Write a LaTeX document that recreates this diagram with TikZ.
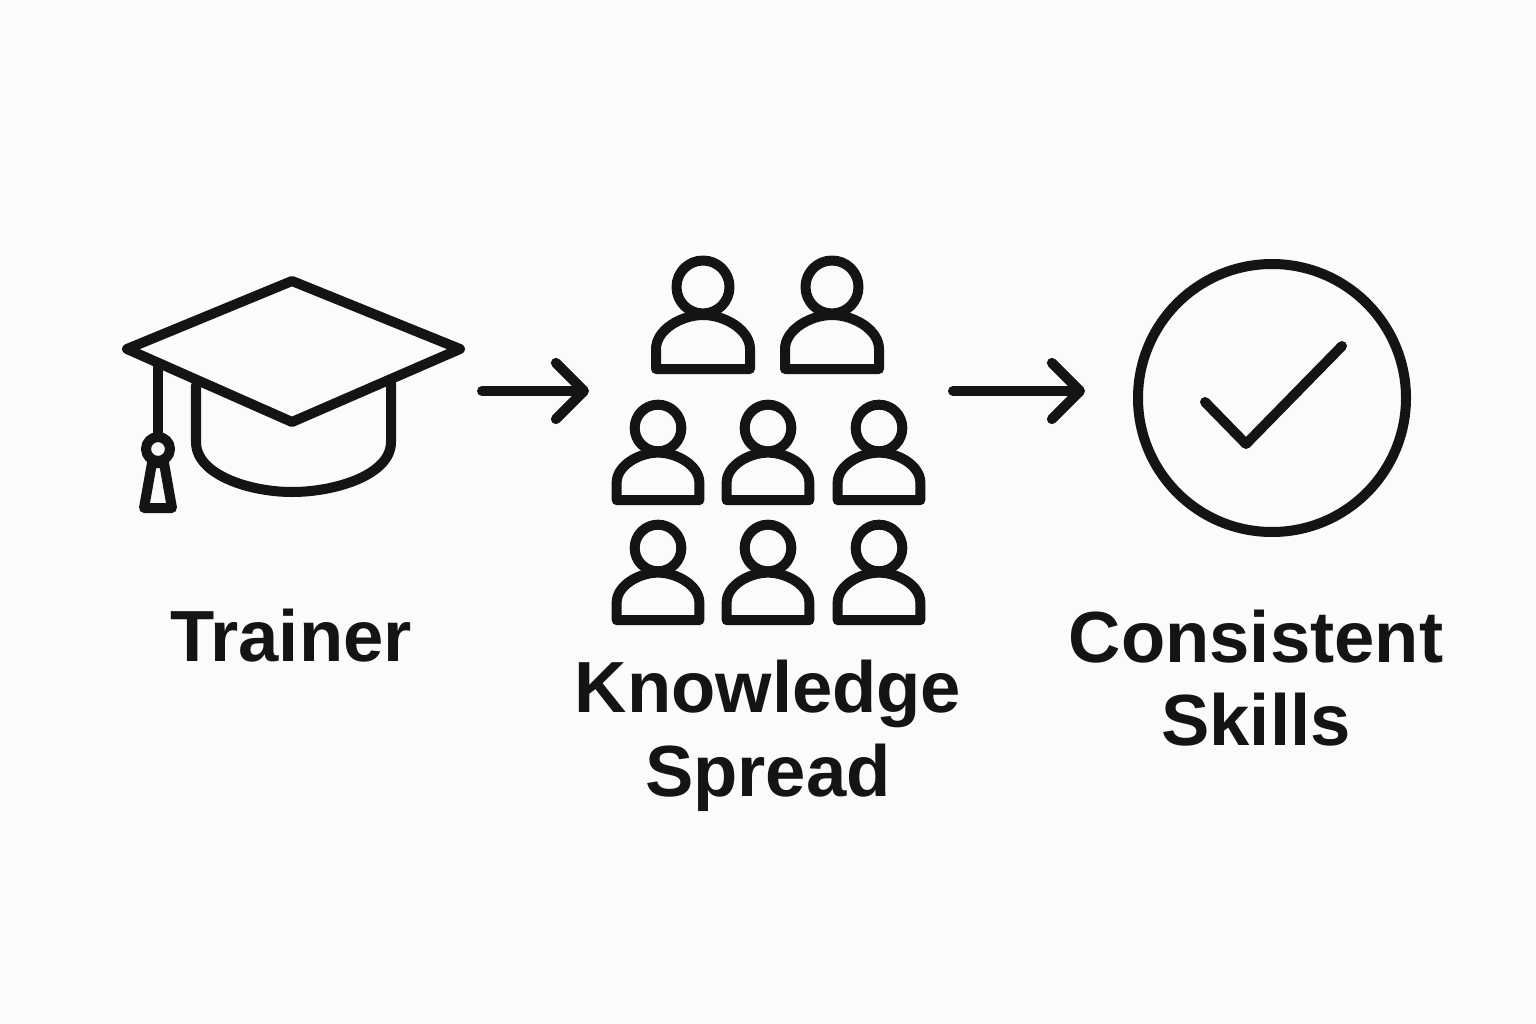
\documentclass[tikz,border=0pt]{standalone}
\usepackage{fontspec}
\setmainfont{Liberation Sans}
\usepackage{tikz}
\usetikzlibrary{arrows.meta}
\definecolor{inkblack}{HTML}{141414}
\definecolor{paper}{HTML}{FBFBFB}
\tikzset{
    icon/.style={line width=0.1cm, color=inkblack, line join=round, line cap=round},
    flowarrow/.style={icon, -{Straight Barb[length=8pt,width=16pt,round]}},
    caption/.style={font=\bfseries\fontsize{20.6}{23.8}\selectfont, text=inkblack, align=center},
    person/.pic={
        \draw[icon] (0,0) circle[radius=26.5];
        \draw[icon] (-47,82) -- (-47,62) .. controls (-47,43) and (-22,28) .. (0,28)
            .. controls (22,28) and (47,43) .. (47,62) -- (47,82) -- cycle;
    }
}
\begin{document}
\begin{tikzpicture}[x=0.01cm, y=-0.01cm]
    \fill[paper] (0,0) rectangle (1536,1024);
    \useasboundingbox (0,0) rectangle (1536,1024);
    % cap
    \draw[icon] (127,349) -- (292,281) -- (460,349) -- (292,422) -- cycle;
    \draw[icon] (196,385) -- (196,442) .. controls (196,475) and (250,492) .. (292,492)
        .. controls (335,492) and (391,475) .. (391,442) -- (391,383);
    \draw[icon] (158,367) -- (158,435);
    \draw[icon] (158,449) circle[radius=12];
    \draw[icon] (152,463) -- (164,463) -- (172,508) -- (144,508) -- cycle;
    % people
    \foreach \px in {703,832}
        \pic at (\px,287) {person};
    \foreach \px in {658,768,879} {
        \pic[scale=0.88] at (\px,428) {person};
        \pic[scale=0.88] at (\px,548) {person};
    }
    % check mark
    \draw[icon] (1272,398) circle[radius=134];
    \draw[icon] (1205,402) -- (1246,444) -- (1342,346);
    % arrows
    \coordinate (trainer-out) at (482,391);
    \coordinate (people-in) at (589,391);
    \coordinate (people-out) at (953,391);
    \coordinate (skills-in) at (1085,391);
    \draw[flowarrow] (trainer-out) -- (people-in);
    \draw[flowarrow] (people-out) -- (skills-in);
    % labels
    \node[caption] (trainer) at (291,636) {Trainer};
    \node[caption] (spread) at (768,736) {Knowledge\\Spread};
    \node[caption] (skills) at (1256,678) {Consistent\\Skills};
\end{tikzpicture}
\end{document}
